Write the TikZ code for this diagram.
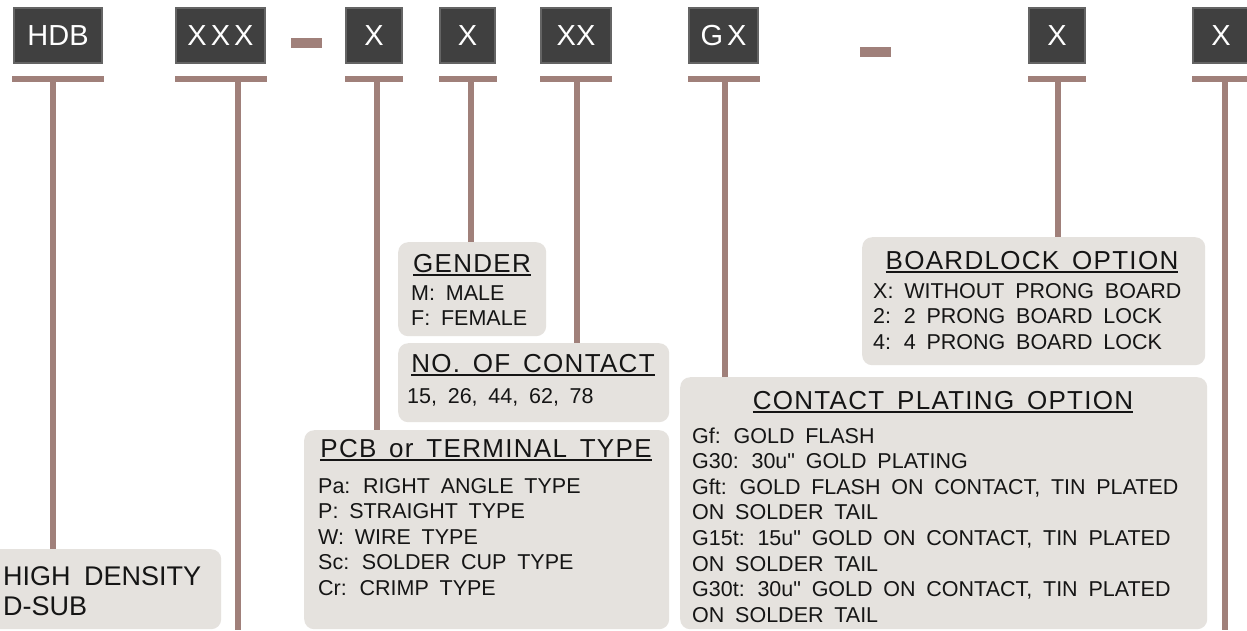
\documentclass[tikz,border=0pt]{standalone}
\usepackage{fontspec}
\setmainfont{Liberation Sans}[WordSpace=1.8]
\newfontfamily\headfont{Liberation Sans}[LetterSpace=5,WordSpace=1.5]
\newfontfamily\codefont{Liberation Sans}[WordSpace=0.5]
\usepackage{xcolor}
\definecolor{codefill}{HTML}{404040}
\definecolor{codeedge}{HTML}{646464}
\definecolor{stemcol}{HTML}{A0807A}
\definecolor{infofill}{HTML}{E5E2DE}
\definecolor{inktext}{HTML}{151515}
\newcommand\headline[1]{\setbox0\hbox{#1}\rlap{\rule[-4pt]{\wd0}{2pt}}\box0}
\tikzset{
code/.style={
  rectangle,
  fill=codefill, draw=codeedge, line width=2pt,
  minimum height=55pt, inner sep=0pt,
  text=white, font=\codefont\fontsize{29}{34}\selectfont
},
tbar/.style={rectangle, fill=stemcol, minimum height=6pt, inner sep=0pt},
dashbar/.style={rectangle, fill=stemcol, minimum width=31pt, minimum height=10pt, inner sep=0pt},
stem/.style={draw=stemcol, line width=6pt},
infobox/.style={rectangle, rounded corners=10pt, fill=infofill, inner sep=0pt, anchor=north west},
head/.style={anchor=base, inner sep=0pt, text=inktext, font=\headfont\fontsize{26}{30}\selectfont},
% base of a node with several lines = its last line
body/.style={anchor=base west, inner sep=0pt, align=left, text=inktext, font=\fontsize{21.5}{25.6}\selectfont},
}

\begin{document}
\begin{tikzpicture}[x=1pt,y=-1pt]
\useasboundingbox (0,0) rectangle (1247,630);
\fill[white] (0,0) rectangle (1247,630);

% the code boxes
\node[code, minimum width=88pt] (hdb)      at (58,35.5)   {HDB};
\node[code, minimum width=89pt] (series)   at (220.5,35.5) {X X X};
\node[dashbar] (dasha) at (306.5,43) {};
\node[code, minimum width=56pt] (termcode) at (374,35.5)  {X};
\node[code, minimum width=55pt] (gendcode) at (467.5,35.5) {X};
\node[code, minimum width=70pt] (pincode)  at (576,35.5)  {XX};
\node[code, minimum width=69pt] (platecode) at (723.5,35.5) {G X};
\node[dashbar] (dashb) at (875.5,51.5) {};
\node[code, minimum width=56pt] (lockcode) at (1057,35.5) {X};
\node[code, minimum width=56pt] (endcode)  at (1221,35.5) {X};

% the bars under them
\foreach \n/\w in {hdb/92,series/92,termcode/58,gendcode/58,pincode/72,platecode/72,lockcode/58,endcode/58}
{
  \node[tbar, minimum width=\w pt] (\n bar) at (\n.south |- 0,79) {};
}

% the text boxes
\node[infobox, minimum width=241pt, minimum height=80pt] (hdsub) at (-20,549) {};
\node[body, font=\fontsize{27}{30}\selectfont] (hdsubtxt) at (3,615) {HIGH DENSITY\\D-SUB};

\node[infobox, minimum width=148pt, minimum height=94pt] (gender) at (398,242) {};
\node[head] (genderhead) at (472,272) {\headline{GENDER}};
\node[body] (gendertxt) at (411,325.6) {M: MALE\\F: FEMALE};

\node[infobox, minimum width=271pt, minimum height=79pt] (contact) at (398,343) {};
\node[head] (contacthead) at (533,372) {\headline{NO. OF CONTACT}};
\node[body] (contacttxt) at (407,403) {15, 26, 44, 62, 78};

\node[infobox, minimum width=365pt, minimum height=199pt] (pcb) at (304,430) {};
\node[head] (pcbhead) at (486,457) {\headline{PCB or TERMINAL TYPE}};
\node[body] (pcbtxt) at (318,595.4)
  {Pa: RIGHT ANGLE TYPE\\P: STRAIGHT TYPE\\W: WIRE TYPE\\Sc: SOLDER CUP TYPE\\Cr: CRIMP TYPE};

\node[infobox, minimum width=343pt, minimum height=128pt] (lock) at (862,237) {};
\node[head] (lockhead) at (1032,269) {\headline{BOARDLOCK OPTION}};
\node[body] (locktxt) at (873,349.2)
  {X: WITHOUT PRONG BOARD\\2: 2 PRONG BOARD LOCK\\4: 4 PRONG BOARD LOCK};

\node[infobox, minimum width=527pt, minimum height=252pt] (plate) at (680,377) {};
\node[head] (platehead) at (943,409) {\headline{CONTACT PLATING OPTION}};
\node[body] (platetxt) at (692,622.2)
  {Gf: GOLD FLASH\\G30: 30u\textquotedbl{} GOLD PLATING\\Gft: GOLD FLASH ON CONTACT, TIN PLATED\\ON SOLDER TAIL\\
   G15t: 15u\textquotedbl{} GOLD ON CONTACT, TIN PLATED\\ON SOLDER TAIL\\G30t: 30u\textquotedbl{} GOLD ON CONTACT, TIN PLATED\\ON SOLDER TAIL};

% the stems
\coordinate (hdbstem)   at (53,79);
\coordinate (seriesstem) at (238,79);
\coordinate (seriesend) at (238,630);
\coordinate (termstem)  at (377,79);
\coordinate (gendstem)  at (471,79);
\coordinate (pinstem)   at (577,79);
\coordinate (platestem) at (725,79);
\coordinate (lockstem)  at (1058,79);
\coordinate (endstem)   at (1225,79);
\coordinate (endend)    at (1225,630);
\draw[stem] (hdbstem) -- (hdbstem |- hdsub.north);
\draw[stem] (seriesstem) -- (seriesend);
\draw[stem] (termstem) -- (termstem |- pcb.north);
\draw[stem] (gendstem) -- (gendstem |- gender.north);
\draw[stem] (pinstem) -- (pinstem |- contact.north);
\draw[stem] (platestem) -- (platestem |- plate.north);
\draw[stem] (lockstem) -- (lockstem |- lock.north);
\draw[stem] (endstem) -- (endend);
\end{tikzpicture}
\end{document}
